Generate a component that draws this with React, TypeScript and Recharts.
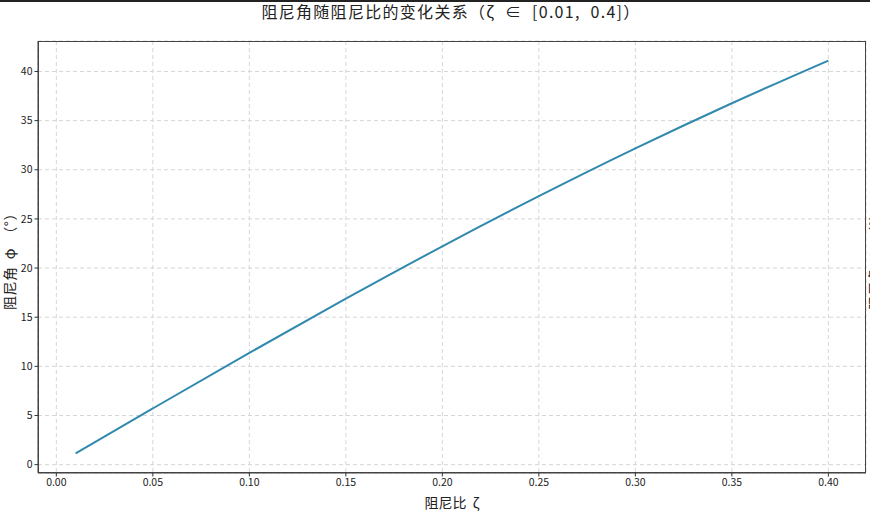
import React from 'react';
import { LineChart, Line, XAxis, YAxis, CartesianGrid } from 'recharts';

const zetaValues = [0.01, 0.05, 0.1, 0.15, 0.2, 0.25, 0.3, 0.35, 0.4];
const phiValues = [1.15, 5.72, 11.37, 16.88, 22.21, 27.31, 32.17, 36.77, 41.11];
const xTicks = [0, 0.05, 0.1, 0.15, 0.2, 0.25, 0.3, 0.35, 0.4];
const yTicks = [0, 5, 10, 15, 20, 25, 30, 35, 40];

const data = zetaValues.map((z, i) => ({ zeta: z, phi: phiValues[i] }));

const FONT = '"Noto Sans CJK SC", "DejaVu Sans", sans-serif';
const tickStyle = { fontSize: 10.5, fill: '#222', fontFamily: FONT };

export default function App() {
  return (
    <div style={{ position: 'fixed', left: 0, top: 0, width: 870, height: 511, background: '#fff', overflow: 'hidden', fontFamily: FONT }}>
      <div style={{ position: 'absolute', left: 0, top: 0, width: 870, height: 1.5, background: '#222' }} />
      <div style={{ position: 'absolute', left: 451, top: 11, transform: 'translate(-50%, -50%)', fontSize: 16, letterSpacing: 1.3, whiteSpace: 'pre', lineHeight: '20px', color: '#222' }}>
        阻尼角随阻尼比的变化关系（ζ  ∈  [0.01,  0.4]）
      </div>
      <LineChart width={870} height={511} data={data} margin={{ top: 41, right: 4, bottom: 0, left: 0 }}>
        <CartesianGrid stroke="#d6d6d6" strokeDasharray="4 3" />
        <XAxis
          dataKey="zeta"
          type="number"
          domain={[-0.0095, 0.4195]}
          ticks={xTicks}
          tickFormatter={(v: number) => v.toFixed(2)}
          height={38}
          tick={tickStyle}
          tickSize={3.5}
          tickLine={{ stroke: '#333' }}
          axisLine={{ stroke: '#444' }}
          allowDataOverflow
        />
        <YAxis
          type="number"
          domain={[-0.85, 43.1]}
          ticks={yTicks}
          width={38}
          tick={tickStyle}
          tickSize={3.5}
          tickLine={{ stroke: '#333' }}
          axisLine={{ stroke: '#444' }}
          allowDataOverflow
        />
        <Line type="monotone" dataKey="phi" stroke="#3189AE" strokeWidth={2} dot={false} isAnimationActive={false} />
      </LineChart>
      <div style={{ position: 'absolute', left: 38, top: 41, width: 828, height: 432, boxSizing: 'border-box', border: '1px solid #444', pointerEvents: 'none' }} />
      <div style={{ position: 'absolute', left: 452, top: 502, transform: 'translate(-50%, -50%)', fontSize: 14, whiteSpace: 'pre', lineHeight: '18px', color: '#222' }}>
        阻尼比  ζ
      </div>
      <div style={{ position: 'absolute', left: 9, top: 258, transform: 'translate(-50%, -50%) rotate(-90deg)', fontSize: 14, letterSpacing: 0.5, whiteSpace: 'pre', lineHeight: '16px', color: '#222' }}>
        阻尼角  φ  （°）
      </div>
      <div style={{ position: 'absolute', left: 874, top: 258, transform: 'translate(-50%, -50%) rotate(-90deg)', fontSize: 14, letterSpacing: 0.5, whiteSpace: 'pre', lineHeight: '16px', color: '#222' }}>
        阻尼角  φ  （°）
      </div>
    </div>
  );
}
